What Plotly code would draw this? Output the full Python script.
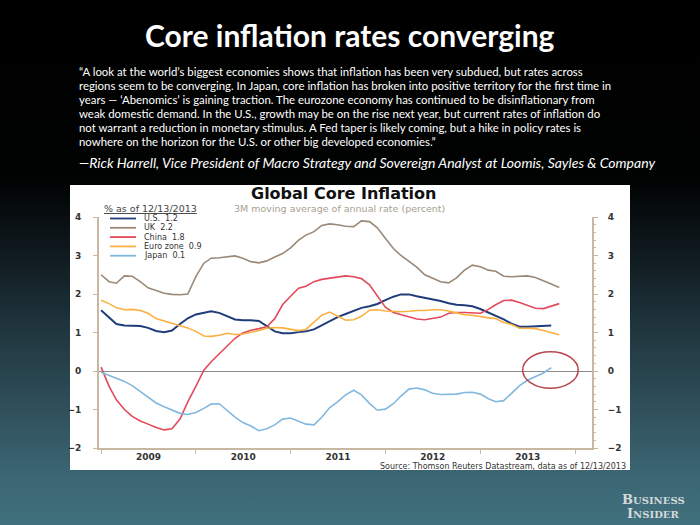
import base64
import pandas as pd
import plotly.graph_objects as go

# ---------------- data (monthly, Jan 2009 onward) ----------------
us = [1.58, 1.38, 1.22, 1.18, 1.18, 1.17, 1.12, 1.04, 1.01, 1.05, 1.22, 1.37,
      1.47, 1.52, 1.55, 1.51, 1.43, 1.34, 1.32, 1.32, 1.30, 1.17, 1.03, 0.98,
      0.98, 1.01, 1.03, 1.08, 1.19, 1.29, 1.40, 1.48, 1.57, 1.64, 1.68, 1.74,
      1.84, 1.93, 1.99, 1.99, 1.94, 1.90, 1.87, 1.82, 1.76, 1.72, 1.71, 1.68,
      1.61, 1.52, 1.44, 1.34, 1.23, 1.15, 1.15, 1.16, 1.18, 1.18]
uk = [2.50, 2.32, 2.28, 2.47, 2.46, 2.32, 2.16, 2.10, 2.02, 1.99, 1.98, 2.00,
      2.45, 2.80, 2.93, 2.94, 2.96, 2.99, 2.93, 2.84, 2.81, 2.86, 2.96, 3.05,
      3.20, 3.40, 3.53, 3.62, 3.78, 3.82, 3.80, 3.76, 3.75, 3.90, 3.88, 3.72,
      3.45, 3.18, 3.00, 2.85, 2.70, 2.50, 2.42, 2.32, 2.29, 2.42, 2.62, 2.75,
      2.71, 2.62, 2.59, 2.46, 2.45, 2.46, 2.47, 2.43, 2.35, 2.26, 2.17]
china = [0.10, -0.40, -0.75, -1.00, -1.18, -1.30, -1.38, -1.47, -1.53, -1.50, -1.25, -0.80,
         -0.40, 0.02, 0.24, 0.45, 0.66, 0.85, 0.99, 1.06, 1.10, 1.15, 1.36, 1.72,
         1.94, 2.15, 2.20, 2.32, 2.38, 2.41, 2.44, 2.47, 2.45, 2.40, 2.24, 1.95,
         1.66, 1.52, 1.46, 1.40, 1.35, 1.33, 1.36, 1.40, 1.50, 1.52, 1.52, 1.51,
         1.50, 1.60, 1.72, 1.83, 1.84, 1.78, 1.70, 1.63, 1.62, 1.68, 1.75]
euro = [1.84, 1.75, 1.64, 1.59, 1.60, 1.57, 1.50, 1.36, 1.30, 1.24, 1.18, 1.12,
        1.03, 0.91, 0.90, 0.93, 0.98, 0.95, 0.96, 1.00, 1.05, 1.11, 1.13, 1.12,
        1.09, 1.05, 1.08, 1.26, 1.45, 1.53, 1.42, 1.32, 1.33, 1.42, 1.58, 1.59,
        1.56, 1.54, 1.54, 1.55, 1.57, 1.57, 1.59, 1.59, 1.56, 1.51, 1.46, 1.45,
        1.41, 1.38, 1.36, 1.26, 1.21, 1.11, 1.11, 1.10, 1.05, 0.99, 0.94]
japan = [-0.03, -0.11, -0.19, -0.27, -0.38, -0.53, -0.69, -0.83, -0.93, -1.02, -1.10, -1.13,
         -1.08, -0.97, -0.86, -0.85, -1.03, -1.20, -1.34, -1.43, -1.55, -1.50, -1.40, -1.25,
         -1.22, -1.30, -1.38, -1.40, -1.20, -0.95, -0.80, -0.62, -0.50, -0.62, -0.84, -1.02,
         -0.99, -0.85, -0.65, -0.47, -0.44, -0.49, -0.58, -0.61, -0.61, -0.60, -0.56, -0.55,
         -0.60, -0.72, -0.80, -0.77, -0.58, -0.38, -0.24, -0.14, -0.05, 0.09]

series_names = ["U.S.", "UK", "China", "Euro zone", "Japan"]
series_latest = ["1.2", "2.2", "1.8", "0.9", "0.1"]
series_values = [us, uk, china, euro, japan]
series_colors = ["#1f3d7a", "#9a8878", "#e24a5c", "#fbb040", "#82b8df"]
series_widths = [2.0, 1.6, 1.6, 1.6, 1.6]
start_month = "2009-01-01"

quote_lines = [
    "“A look at the world’s biggest economies shows that inflation has been very subdued, but rates across",
    "regions seem to be converging. In Japan, core inflation has broken into positive territory for the first time in",
    "years — ‘Abenomics’ is gaining traction. The eurozone economy has continued to be disinflationary from",
    "weak domestic demand. In the U.S., growth may be on the rise next year, but current rates of inflation do",
    "not warrant a reduction in monetary stimulus. A Fed taper is likely coming, but a hike in policy rates is",
    "nowhere on the horizon for the U.S. or other big developed economies.”",
]
attribution = "—Rick Harrell, Vice President of Macro Strategy and Sovereign Analyst at Loomis, Sayles & Company"

# ---------------- layout geometry (pixels) ----------------
W, H = 700, 525
L, R, T, B = 99, 592, 217, 448
PW, PH = R - L, B - T


def px(x):
    return (x - L) / PW


def py(y):
    return (B - y) / PH


fig = go.Figure()
for i, (name, vals, col, w) in enumerate(zip(series_names, series_values, series_colors, series_widths)):
    dates = pd.date_range(start_month, periods=len(vals), freq="MS")
    fig.add_trace(go.Scatter(
        x=dates, y=vals, mode="lines", name=name,
        line=dict(color=col, width=w),
        yaxis="y2" if i == 4 else "y",
        showlegend=False, hoverinfo="skip",
    ))

# background gradient
svg = (
    "<svg xmlns='http://www.w3.org/2000/svg' width='700' height='525' preserveAspectRatio='none'>"
    "<defs><linearGradient id='g' x1='0' y1='0' x2='0' y2='1'>"
    "<stop offset='0' stop-color='#000000'/>"
    "<stop offset='0.34' stop-color='#010202'/>"
    "<stop offset='0.5' stop-color='#111d22'/>"
    "<stop offset='0.63' stop-color='#20363e'/>"
    "<stop offset='0.77' stop-color='#2e4e59'/>"
    "<stop offset='0.9' stop-color='#3b6572'/>"
    "<stop offset='1' stop-color='#41717e'/>"
    "</linearGradient></defs><rect width='700' height='525' fill='url(#g)'/></svg>"
)
src = "data:image/svg+xml;base64," + base64.b64encode(svg.encode()).decode()
fig.add_layout_image(dict(source=src, xref="paper", yref="paper",
                          x=px(0), y=py(0), sizex=W / PW, sizey=H / PH,
                          xanchor="left", yanchor="top", sizing="stretch", layer="below"))

shapes = []
# white chart panel
shapes.append(dict(type="rect", xref="paper", yref="paper",
                   x0=px(70), x1=px(630), y0=py(470), y1=py(185),
                   fillcolor="white", line=dict(width=0), layer="below"))
# highlight ellipse
shapes.append(dict(type="circle", xref="x", yref="y",
                   x0="2013-06-13", x1="2014-01-13", y0=-0.45, y1=0.50,
                   line=dict(color="#b5474b", width=1.5)))
# legend sample lines
legend_y = [218.5, 227.8, 237.1, 246.4, 255.7]
for yy, col in zip(legend_y, series_colors):
    shapes.append(dict(type="line", xref="paper", yref="paper",
                       x0=px(110), x1=px(136), y0=py(yy), y1=py(yy),
                       line=dict(color=col, width=1.8)))

ann = []
ann.append(dict(text="<b>Core inflation rates converging</b>", x=px(350), y=py(35),
                font=dict(family="Lato", size=30, color="white")))
for k, line in enumerate(quote_lines):
    ann.append(dict(text=line, x=px(77), y=py(71.7 + 13.9 * k), xanchor="left",
                    font=dict(family="Lato", size=11.4, color="white")))
ann.append(dict(text="<i>" + attribution + "</i>", x=px(77), y=py(162.5), xanchor="left",
                font=dict(family="Lato", size=14, color="white")))
ann.append(dict(text="<b>Global Core Inflation</b>", x=px(343), y=py(193),
                font=dict(family="DejaVu Sans", size=16, color="#111111")))
ann.append(dict(text="<u>% as of 12/13/2013</u>", x=px(102), y=py(208.5), xanchor="left",
                font=dict(family="DejaVu Sans", size=9.5, color="#444444")))
ann.append(dict(text="3M moving average of annual rate (percent)", x=px(232), y=py(208.5), xanchor="left",
                font=dict(family="DejaVu Sans", size=9.5, color="#a8a090")))
for yy, nm, lv in zip(legend_y, series_names, series_latest):
    ann.append(dict(text=nm + "\u00a0\u00a0" + lv, x=px(142), y=py(yy), xanchor="left",
                    font=dict(family="DejaVu Sans", size=8, color="#333333")))
ann.append(dict(text="Source: Thomson Reuters Datastream, data as of 12/13/2013", x=px(628), y=py(466.5),
                xanchor="right", font=dict(family="DejaVu Sans", size=8, color="#333333")))
ann.append(dict(text="<b>B<span style='font-size:10px'>USINESS</span></b>", x=px(653), y=py(499),
                font=dict(family="DejaVu Serif", size=13, color="#d4d9dc")))
ann.append(dict(text="<b>I<span style='font-size:10px'>NSIDER</span></b>", x=px(653), y=py(513),
                font=dict(family="DejaVu Serif", size=13, color="#d4d9dc")))
for a in ann:
    a.update(xref="paper", yref="paper", showarrow=False)
    a.setdefault("xanchor", "center")
    a.setdefault("yanchor", "middle")

axis_col = "#c8b8a2"
tickfont = dict(family="DejaVu Sans", size=9, color="#333333", weight="bold")

fig.update_layout(
    width=W, height=H,
    margin=dict(l=L, r=W - R, t=T, b=H - B, pad=0),
    paper_bgcolor="black", plot_bgcolor="rgba(0,0,0,0)",
    shapes=shapes, annotations=ann, showlegend=False,
    xaxis=dict(type="date", range=["2008-12-24", "2014-03-07"],
               tick0="2009-01-01", dtick="M12", tickformat="%Y", ticklabelmode="period",
               ticks="outside", ticklen=4, tickcolor=axis_col, tickwidth=1.2,
               showline=True, linecolor=axis_col, linewidth=2, showgrid=False, zeroline=False,
               ticklabelstandoff=-5,
               tickfont=dict(family="DejaVu Sans", size=9, color="#333333", weight="bold")),
    yaxis=dict(range=[-2, 4], dtick=1, ticks="outside", ticklen=4, tickcolor=axis_col,
               showline=True, linecolor=axis_col, linewidth=2, showgrid=False,
               zeroline=True, zerolinecolor="#8a8a8a", zerolinewidth=1.2,
               ticklabelstandoff=10, tickfont=tickfont),
    yaxis2=dict(range=[-2, 4], dtick=1, overlaying="y", side="right", anchor="x",
                ticks="outside", ticklen=4, tickcolor=axis_col,
                minor=dict(dtick=0.2, ticks="outside", ticklen=2, tickcolor=axis_col),
                showline=True, linecolor=axis_col, linewidth=2, showgrid=False, zeroline=False,
                ticklabelstandoff=8, tickfont=tickfont),
)

fig.write_html("out.html")
